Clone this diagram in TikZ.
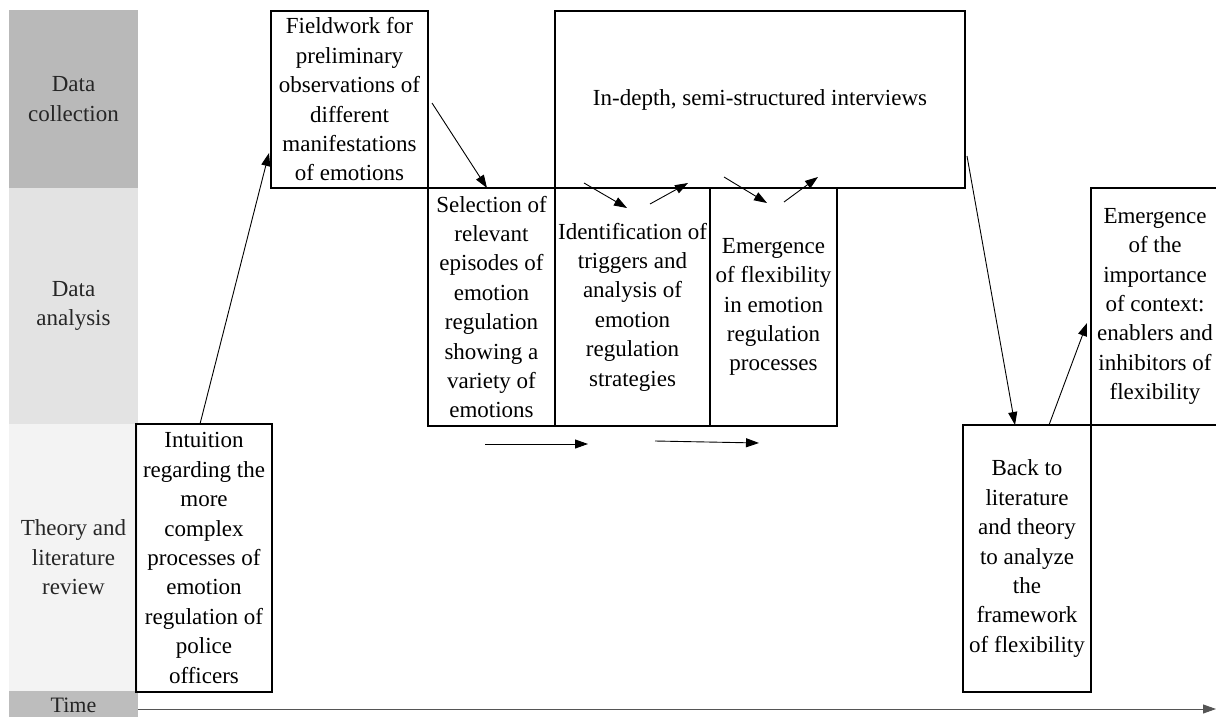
\documentclass[tikz,border=0pt]{standalone}
\usepackage{fontspec}
\setmainfont{Liberation Serif}
\newfontfamily\lserif{Liberation Serif}
\usetikzlibrary{arrows.meta}
\definecolor{laneA}{HTML}{B9B9B9}
\definecolor{laneB}{HTML}{E3E3E3}
\definecolor{laneC}{HTML}{F3F3F3}
\definecolor{laneT}{HTML}{BDBDBD}
\definecolor{timeline}{HTML}{555555}
\begin{document}
\begin{tikzpicture}[x=1pt,y=-1pt,
  every node/.style={font=\lserif\fontsize{23}{29.4}\selectfont, align=center, inner sep=0pt},
  lane/.style={rectangle, minimum width=129pt, text=black!85},
  stagebox/.style={rectangle, draw=black, line width=1.6pt},
  arr/.style={-{Triangle[length=13pt,width=9pt]}, line width=0.9pt, black},
]
\useasboundingbox (0,0) rectangle (1216,717);
\clip (0,0) rectangle (1216,717);
\fill[white] (0,0) rectangle (1216,717);

% lanes
\node[lane, fill=laneA, minimum height=178pt] (dc) at (73.5,99) {Data\\collection};
\node[lane, fill=laneB, minimum height=236pt] (da) at (73.5,306) {Data\\analysis};
\node[lane, fill=laneC, minimum height=267pt] (th) at (73.5,557.5) {Theory and\\literature\\review};
\node[lane, fill=laneT, minimum height=28pt] (tl) at (73.5,705) {};
\node[anchor=base, text=black!85, font=\lserif\fontsize{22}{24}\selectfont] (tlabel) at (73.5,712) {Time};

% stage boxes
\node[stagebox, minimum width=136pt, minimum height=268pt] (intu) at (204,558)
  {Intuition\\regarding the\\more\\complex\\processes of\\emotion\\regulation of\\police\\officers};
\node[stagebox, minimum width=157pt, minimum height=177pt] (field) at (349.5,99.5)
  {Fieldwork for\\preliminary\\observations of\\different\\manifestations\\of emotions};
\node[stagebox, minimum width=410pt, minimum height=177pt] (interv) at (760,99.5)
  {In-depth, semi-structured interviews};
\node[stagebox, minimum width=127pt, minimum height=238pt] (sel) at (491.5,307)
  {Selection of\\relevant\\episodes of\\emotion\\regulation\\showing a\\variety of\\emotions};
\node[stagebox, minimum width=155pt, minimum height=238pt] (ident) at (632.5,307)
  {Identification of\\triggers and\\analysis of\\emotion\\regulation\\strategies};
\node[stagebox, minimum width=127pt, minimum height=238pt] (flex) at (773.5,307)
  {Emergence\\of flexibility\\in emotion\\regulation\\processes};
\node[stagebox, minimum width=128pt, minimum height=267pt] (back) at (1027,558.5)
  {Back to\\literature\\and theory\\to analyze\\the\\framework\\of flexibility};
\node[stagebox, minimum width=128pt, minimum height=237pt] (ctx) at (1155,306.5)
  {Emergence\\of the\\importance\\of context:\\enablers and\\inhibitors of\\flexibility};

% arrow end points
\coordinate (a1s) at (200,424);   \coordinate (a1e) at (269,153);
\coordinate (a2s) at (432,103);   \coordinate (a2e) at (487,188);
\coordinate (a3s) at (584,183);   \coordinate (a3e) at (627,208);
\coordinate (a4s) at (650,204);   \coordinate (a4e) at (688,183);
\coordinate (a5s) at (724,177);   \coordinate (a5e) at (767,203);
\coordinate (a6s) at (784,202);   \coordinate (a6e) at (818,177);
\coordinate (a7s) at (485,444);   \coordinate (a7e) at (588,444);
\coordinate (a8s) at (655,441);   \coordinate (a8e) at (759,443);
\coordinate (a9s) at (967,156);   \coordinate (a9e) at (1015,425);
\coordinate (a10s) at (1049,425); \coordinate (a10e) at (1087,323);
\coordinate (ts) at (138,709);    \coordinate (te) at (1216,709);

\draw[arr] (a1s) -- (a1e);
\draw[arr] (a2s) -- (a2e);
\draw[arr] (a3s) -- (a3e);
\draw[arr] (a4s) -- (a4e);
\draw[arr] (a5s) -- (a5e);
\draw[arr] (a6s) -- (a6e);
\draw[arr] (a7s) -- (a7e);
\draw[arr] (a8s) -- (a8e);
\draw[arr] (a9s) -- (a9e);
\draw[arr] (a10s) -- (a10e);
\draw[arr, draw=timeline, fill=black] (ts) -- (te);
\end{tikzpicture}
\end{document}
